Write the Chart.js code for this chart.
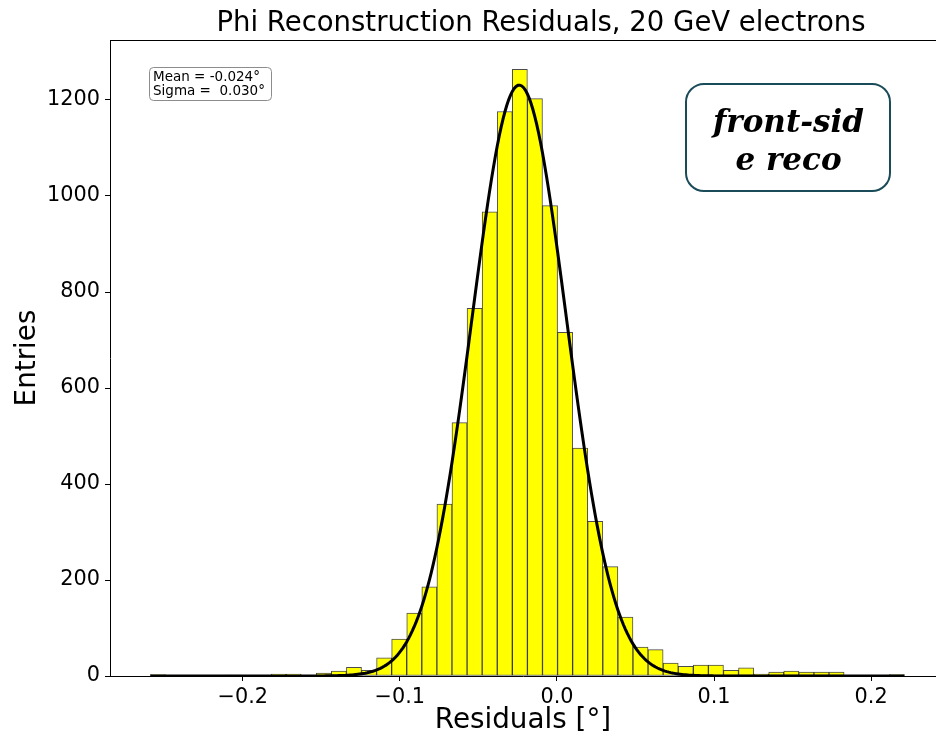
<!DOCTYPE html>
<html>
<head>
<meta charset="utf-8">
<title>Phi Reconstruction Residuals</title>
<script src="https://cdn.jsdelivr.net/npm/chart.js@4.4.1/dist/chart.umd.min.js"></script>
<style>
  html, body { margin: 0; padding: 0; background: #fff; }
  #wrap { width: 936px; height: 740px; }
</style>
</head>
<body>
<div id="wrap"><canvas id="residualChart" width="936" height="740"></canvas></div>
<script>
// histogram binning of the phi residuals (degrees)
const binStart = -0.2588;
const binWidth = 0.0096;
const binCounts = [
  3, 1, 1, 1, 1, 2, 1, 1, 4, 4,
  1, 6, 10, 18, 12, 38, 77, 131, 186, 358,
  528, 766, 967, 1176, 1264, 1203, 980, 716, 475, 322,
  228, 123, 60, 55, 27, 20, 23, 23, 12, 17,
  4, 8, 10, 8, 8, 8, 1, 1, 0, 3
];

// gaussian fit result
const fitMean = -0.024;
const fitSigma = 0.030;
const fitAmplitude = 1231;

const xTickValues = [-0.2, -0.1, 0.0, 0.1, 0.2];
const xTickLabels = ["\u22120.2", "\u22120.1", "0.0", "0.1", "0.2"];
const yTickValues = [0, 200, 400, 600, 800, 1000, 1200];

const chartTitle = "Phi Reconstruction Residuals, 20 GeV electrons";
const statsLines = [
  "Mean = " + fitMean.toFixed(3) + "\u00b0",
  "Sigma =  " + fitSigma.toFixed(3) + "\u00b0"
];
const tagLines = ["front-sid", "e reco"];

const SANS = "'DejaVu Sans', sans-serif";

// bars sit on the bin centres
const histPoints = binCounts.map((c, i) => ({ x: binStart + (i + 0.5) * binWidth, y: c }));

// evaluate the fitted gaussian over the histogram range
const fitPoints = [];
const fitSteps = 400;
const rangeEnd = binStart + binCounts.length * binWidth;
for (let i = 0; i <= fitSteps; i++) {
    const x = binStart + (rangeEnd - binStart) * i / fitSteps;
    const z = (x - fitMean) / fitSigma;
    fitPoints.push({ x: x, y: fitAmplitude * Math.exp(-0.5 * z * z) });
}

function roundRect(ctx, x, y, w, h, r) {
    ctx.beginPath();
    ctx.moveTo(x + r, y);
    ctx.lineTo(x + w - r, y);
    ctx.arcTo(x + w, y, x + w, y + r, r);
    ctx.lineTo(x + w, y + h - r);
    ctx.arcTo(x + w, y + h, x + w - r, y + h, r);
    ctx.lineTo(x + r, y + h);
    ctx.arcTo(x, y + h, x, y + h - r, r);
    ctx.lineTo(x, y + r);
    ctx.arcTo(x, y, x + r, y, r);
    ctx.closePath();
}

// title, top spine, stats box and the reco tag
const extras = {
    id: "extras",
    afterDraw(chart) {
        const ctx = chart.ctx;
        const area = chart.chartArea;
        ctx.save();

        ctx.strokeStyle = "#000";
        ctx.lineWidth = 1;
        ctx.beginPath();
        ctx.moveTo(area.left, area.top + 0.5);
        ctx.lineTo(area.right, area.top + 0.5);
        ctx.stroke();

        ctx.fillStyle = "#000";
        ctx.font = "27.5px " + SANS;
        ctx.textAlign = "center";
        ctx.textBaseline = "alphabetic";
        ctx.fillText(chartTitle, 541, 31);

        roundRect(ctx, 149.5, 67.5, 122, 33, 4);
        ctx.fillStyle = "#fff";
        ctx.fill();
        ctx.strokeStyle = "#8c8c8c";
        ctx.lineWidth = 1;
        ctx.stroke();
        ctx.fillStyle = "#000";
        ctx.font = "13.5px " + SANS;
        ctx.textAlign = "left";
        ctx.fillText(statsLines[0], 153, 81);
        ctx.fillText(statsLines[1], 153, 95);

        roundRect(ctx, 686, 84, 204, 107, 18);
        ctx.fillStyle = "#fff";
        ctx.fill();
        ctx.strokeStyle = "#1a4b58";
        ctx.lineWidth = 2;
        ctx.stroke();
        ctx.fillStyle = "#000";
        ctx.font = "italic bold 31px 'DejaVu Serif', serif";
        ctx.textAlign = "center";
        ctx.fillText(tagLines[0], 788.5, 132);
        ctx.fillText(tagLines[1], 788.5, 169.5);

        ctx.restore();
    }
};

const ctx = document.getElementById("residualChart").getContext("2d");

new Chart(ctx, {
    type: "bar",
    data: {
        datasets: [
            {
                type: "line",
                data: fitPoints,
                borderColor: "#000",
                borderWidth: 3,
                pointRadius: 0,
                fill: false,
                tension: 0,
                order: 1
            },
            {
                type: "bar",
                data: histPoints,
                backgroundColor: "#ffff00",
                borderColor: "rgba(0, 0, 0, 0.7)",
                borderWidth: 1,
                borderSkipped: false,
                barPercentage: 1,
                categoryPercentage: 1,
                order: 2
            }
        ]
    },
    options: {
        responsive: false,
        animation: false,
        layout: { padding: { top: 40, right: 0, bottom: 0, left: 0 } },
        plugins: {
            legend: { display: false },
            tooltip: { enabled: false }
        },
        scales: {
            x: {
                type: "linear",
                min: -0.2845,
                max: 0.2413,
                offset: false,
                afterBuildTicks: s => { s.ticks = xTickValues.map(v => ({ value: v })); },
                afterFit: s => { s.height = 64; },
                ticks: {
                    callback: v => xTickLabels[xTickValues.indexOf(v)],
                    font: { family: SANS, size: 20.8 },
                    color: "#000",
                    padding: 4,
                    maxRotation: 0,
                    autoSkip: false
                },
                grid: { drawOnChartArea: false, drawTicks: true, tickLength: 5, color: "#000", offset: false },
                border: { display: true, color: "#000", width: 1 },
                title: {
                    display: true,
                    text: "Residuals [\u00b0]",
                    font: { family: SANS, size: 27.8 },
                    color: "#000",
                    padding: { top: 0, bottom: 3 }
                }
            },
            y: {
                min: 0,
                max: 1325,
                afterBuildTicks: s => { s.ticks = yTickValues.map(v => ({ value: v })); },
                afterFit: s => { s.width = 110; },
                ticks: {
                    callback: v => String(v),
                    font: { family: SANS, size: 20.8 },
                    color: "#000",
                    padding: 5
                },
                grid: { drawOnChartArea: false, drawTicks: true, tickLength: 5, color: "#000" },
                border: { display: true, color: "#000", width: 1 },
                title: {
                    display: true,
                    text: "Entries",
                    font: { family: SANS, size: 27.8 },
                    color: "#000",
                    padding: { top: 11, bottom: 0 }
                }
            }
        }
    },
    plugins: [extras]
});
</script>
</body>
</html>
